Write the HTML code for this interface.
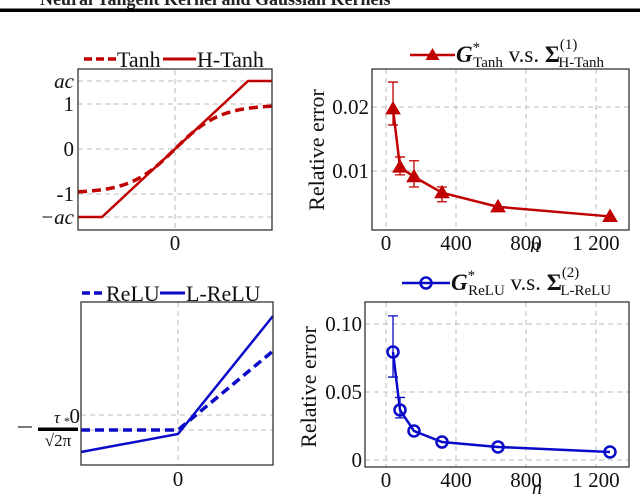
<!DOCTYPE html>
<html><head><meta charset="utf-8"><style>
body{margin:0;background:#fff;}
svg{display:block;font-family:"Liberation Serif",serif;}
</style></head><body>
<svg id="c" width="640" height="496" viewBox="0 0 640 496">
<text x="40" y="5" font-size="18" font-weight="bold" fill="#222">Neural Tangent Kernel and Gaussian Kernels</text>
<rect x="0" y="8.5" width="640" height="3.5" fill="#000"/>
<g id="g"></g>
</svg>
<script>
const nVals=[40,80,160,320,640,1280];
const tanhErr=[0.0197,0.0106,0.0091,0.0066,0.0044,0.0029];
const tanhLo=[0.0172,0.0094,0.0075,0.0052,null,null];
const tanhHi=[0.0239,0.0122,0.0116,0.0075,null,null];
const reluErr=[0.0794,0.0368,0.0213,0.0132,0.0096,0.0059];
const reluLo=[0.061,0.031,null,null,null,null];
const reluHi=[0.106,0.046,null,null,null,null];
const xTicks=[0,400,800,1200];
const xTickLabels=["0","400","800","1 200"];
const yTicksTop=[0.01,0.02];
const yTicksTopLabels=["0.01","0.02"];
const yTicksBot=[0,0.05,0.10];
const yTicksBotLabels=["0","0.05","0.10"];

const NS="http://www.w3.org/2000/svg";
const G=document.getElementById('g');
function mk(t,a,p){const e=document.createElementNS(NS,t);for(const k in a)e.setAttribute(k,a[k]);(p||G).appendChild(e);return e;}
const RED="#c00000",BLUE="#0a0ac8",GRID="#bbb";

const sx=v=>386+v*(210/1200);
const syT=v=>235-v*6400;
const syB=v=>460-v*1360;

function box(x0,y0,x1,y1,name){
  const r=mk('rect',{x:x0,y:y0,width:x1-x0,height:y1-y0,fill:'none',stroke:'#333','stroke-width':1.3});
  
  
}
function grid(x1,y1,x2,y2){
  const l=mk('line',{x1,y1,x2,y2,stroke:GRID,'stroke-dasharray':'5,4','stroke-width':1});
  
  
}
function txt(x,y,s,anchor,size,name){
  const t=mk('text',{x,y,'font-size':size||21,'text-anchor':anchor||'middle',fill:'#111'});
  t.textContent=s;
  
  
  return t;
}

/* ---------- top-left: Tanh / H-Tanh ---------- */
grid(175,70,175,230);
[81,104,149,194,217].forEach(y=>grid(78,y,272,y));
let p=[];
for(let i=0;i<=60;i++){const x=78+i*(194/60);const u=(x-175)/45;p.push(x+','+(149-44*Math.tanh(u)));}
let e=mk('polyline',{points:p.join(' '),fill:'none',stroke:RED,'stroke-width':3.5,'stroke-dasharray':'9,5'});


e=mk('polyline',{points:'78,217 102,217 248,81 272,81',fill:'none',stroke:RED,'stroke-width':2.5});


box(78,69,272,230,'tanh-plot-frame');
txt(74,88,'ac','end',21,'y-tick-ac').setAttribute('font-style','italic');
txt(74,111,'1','end',21,'y-tick-1');
txt(74,156,'0','end',21,'y-tick-0');
txt(74,201,'-1','end',21,'y-tick-minus1');
let t=txt(74,224,'−ac','end',21,'y-tick-minus-ac');t.setAttribute('font-style','italic');
txt(175,250,'0','middle',21,'x-tick-0');
e=mk('line',{x1:84,y1:59,x2:116,y2:59,stroke:RED,'stroke-width':3.5,'stroke-dasharray':'8,4'});


txt(117,67,'Tanh','start',22,'legend-tanh');
e=mk('line',{x1:163,y1:59,x2:196,y2:59,stroke:RED,'stroke-width':3});


txt(197,67,'H-Tanh','start',22,'legend-h-tanh');

/* ---------- bottom-left: ReLU / L-ReLU ---------- */
grid(178,302,178,465);
grid(81,415,273,415);grid(81,430,273,430);
e=mk('polyline',{points:'81,430 178,430 273,351',fill:'none',stroke:BLUE,'stroke-width':3.5,'stroke-dasharray':'9,5'});


e=mk('polyline',{points:'81,452 178,434 273,316',fill:'none',stroke:BLUE,'stroke-width':2.5});


box(81,302,273,465,'relu-plot-frame');
txt(80,423,'0','end',21,'y-tick-0-bottom');
e=mk('line',{x1:18,y1:427,x2:32,y2:427,stroke:'#333','stroke-width':1.3});


e=mk('rect',{x:38,y:427.5,width:40,height:3.5,fill:'#000'});


t=txt(57,423,'τ','middle',17,'fraction-tau');t.setAttribute('font-style','italic');
txt(64,425,'*','start',12,'fraction-star');
txt(58,446,'√2π','middle',17,'fraction-denominator');
txt(178,486,'0','middle',21,'x-tick-0-bottom');
e=mk('line',{x1:82,y1:293,x2:105,y2:293,stroke:BLUE,'stroke-width':3.5,'stroke-dasharray':'8,4'});


txt(106,301,'ReLU','start',22,'legend-relu');
e=mk('line',{x1:160,y1:293,x2:185,y2:293,stroke:BLUE,'stroke-width':3});


txt(186,301,'L-ReLU','start',22,'legend-l-relu');

/* ---------- error plots ---------- */
function errPlot(sy,y0,y1,x0,vals,lo,hi,yt,ytl,col,marker,pfx){
  xTicks.forEach(v=>grid(sx(v),y0,sx(v),y1));
  yt.forEach(v=>grid(x0,sy(v),629,sy(v)));
  for(let i=0;i<nVals.length;i++){
    if(lo[i]==null)continue;
    const x=sx(nVals[i]);
    const b=mk('path',{d:`M${x},${sy(lo[i])}V${sy(hi[i])}M${x-5},${sy(lo[i])}H${x+5}M${x-5},${sy(hi[i])}H${x+5}`,stroke:col,'stroke-width':1.3,fill:'none'});
    
    
  }
  const l=mk('polyline',{points:nVals.map((n,i)=>sx(n)+','+sy(vals[i])).join(' '),fill:'none',stroke:col,'stroke-width':2.5});
  
  
  nVals.forEach((n,i)=>{
    const x=sx(n),y=sy(vals[i]);let m;
    if(marker==='tri')m=mk('polygon',{points:`${x},${y-7} ${x-7},${y+5} ${x+7},${y+5}`,fill:col,stroke:col,'stroke-width':1});
    else m=mk('circle',{cx:x,cy:y,r:5.5,fill:'none',stroke:col,'stroke-width':2.5});
    
    
  });
  box(x0,y0,629,y1,pfx+'-plot-frame');
  xTicks.forEach((v,i)=>txt(sx(v),y1+20,xTickLabels[i],'middle',21,'x-tick'));
  yt.forEach((v,i)=>txt(x0-3,sy(v)+7,ytl[i],'end',21,'y-tick'));
}
errPlot(syT,69,230,372,tanhErr,tanhLo,tanhHi,yTicksTop,yTicksTopLabels,RED,'tri','tanh-error');
errPlot(syB,302,467,365,reluErr,reluLo,reluHi,yTicksBot,yTicksBotLabels,BLUE,'circ','relu-error');

t=txt(0,0,'Relative error','middle',22,'y-axis-title-top');t.setAttribute('transform','translate(324,150) rotate(-90)');
t=txt(0,0,'Relative error','middle',22,'y-axis-title-bottom');t.setAttribute('transform','translate(316,387) rotate(-90)');
t=txt(535,252,'n','middle',20,'x-axis-title-top');t.setAttribute('font-style','italic');
t=txt(537,494,'n','middle',20,'x-axis-title-bottom');t.setAttribute('font-style','italic');

/* legends */
function legend(y,x1,x2,col,marker,sub,sig,sigsub,pfx){
  const l=mk('line',{x1,y1:y,x2,y2:y,stroke:col,'stroke-width':2.5});
  
  
  const cx=(x1+x2)/2;let m;
  if(marker==='tri')m=mk('polygon',{points:`${cx},${y-7} ${cx-7},${y+5} ${cx+7},${y+5}`,fill:col});
  else m=mk('circle',{cx,cy:y,r:5.5,fill:'none',stroke:col,'stroke-width':2.5});
  
  
  const t=mk('text',{x:x2+1,y:y+7,'font-size':23,fill:'#111'});
  
  
  t.innerHTML=`<tspan font-style="italic" font-weight="bold">G</tspan><tspan font-size="15" dy="-10">*</tspan><tspan font-size="15" dx="-7" dy="15">${sub}</tspan><tspan dy="-5"> v.s. </tspan><tspan font-weight="bold">Σ</tspan><tspan font-size="15" dy="-13">${sig}</tspan><tspan font-size="15" dx="-19" dy="18">${sigsub}</tspan>`;
}
legend(55,410,455,RED,'tri','Tanh','(1)','H-Tanh','tanh-error');
legend(283,402,450,BLUE,'circ','ReLU','(2)','L-ReLU','relu-error');
</script>
</body></html>
